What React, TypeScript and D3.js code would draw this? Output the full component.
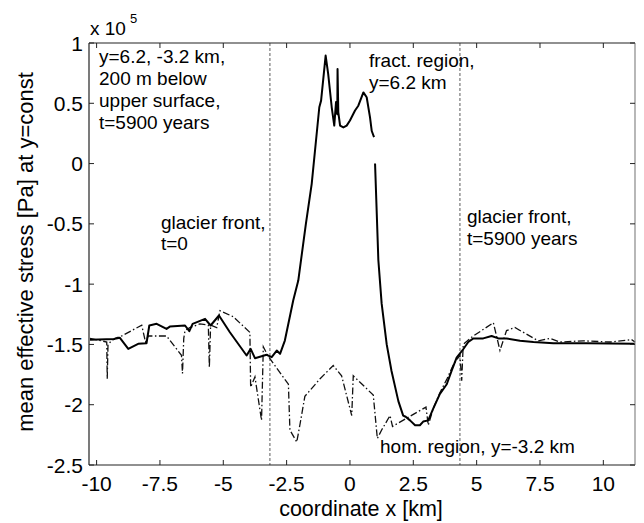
import React from "react";
import * as d3 from "d3";

// x in km, y in 1e5 Pa
const solidPts: [number, number | null][] = [
  [-10.26, -1.462], [-9.28, -1.454], [-9.08, -1.445], [-8.75, -1.537], [-8.36, -1.495],
  [-8.03, -1.49], [-7.92, -1.343], [-7.63, -1.329], [-7.24, -1.371], [-7.11, -1.352],
  [-6.51, -1.343], [-6.34, -1.39], [-6.21, -1.329], [-5.72, -1.288], [-5.5, -1.343],
  [-5.17, -1.26], [-4.74, -1.399], [-4.08, -1.592], [-3.92, -1.537], [-3.75, -1.614],
  [-3.29, -1.586], [-3.09, -1.606], [-2.89, -1.551], [-2.76, -1.578], [-2.57, -1.468],
  [-2.24, -1.136], [-2.04, -0.97], [-1.74, -0.5], [-1.51, -0.168], [-1.21, 0.467],
  [-1.14, 0.522], [-0.96, 0.896], [-0.86, 0.744], [-0.72, 0.467], [-0.62, 0.315],
  [-0.55, 0.51], [-0.5, 0.41], [-0.49, 0.785], [-0.46, 0.425], [-0.39, 0.315],
  [-0.26, 0.3], [-0.13, 0.315], [0, 0.357], [0.2, 0.44], [0.33, 0.48], [0.53, 0.59],
  [0.66, 0.55], [0.79, 0.385], [0.86, 0.27], [0.95, 0.22], [0.97, null],
  [0.99, 0.0], [1.12, -0.8], [1.25, -1.16], [1.45, -1.5], [1.64, -1.72], [1.91, -1.97],
  [2.1, -2.09], [2.2, -2.1], [2.37, -2.13], [2.57, -2.17], [2.76, -2.17], [2.89, -2.14],
  [3.09, -2.13], [3.29, -2.03], [3.55, -1.91], [3.82, -1.83], [4.01, -1.72], [4.21, -1.61],
  [4.47, -1.54], [4.67, -1.48], [4.87, -1.45], [5.26, -1.45], [5.59, -1.43], [5.86, -1.45],
  [6.18, -1.45], [6.71, -1.47], [7.24, -1.48], [8.03, -1.49], [9.34, -1.49], [11.25, -1.495],
];

const dashPts: [number, number][] = [
  [-10.26, -1.45], [-9.6, -1.48], [-9.58, -1.785], [-9.55, -1.5], [-9.41, -1.47],
  [-9.28, -1.45], [-9.01, -1.43], [-8.22, -1.34], [-8.07, -1.48], [-7.96, -1.43],
  [-7.24, -1.43], [-6.65, -1.59], [-6.61, -1.74], [-6.56, -1.45], [-6.51, -1.385],
  [-6.32, -1.36], [-5.92, -1.33], [-5.59, -1.34], [-5.55, -1.69], [-5.5, -1.34],
  [-5.26, -1.36], [-5.13, -1.22], [-4.61, -1.27], [-3.95, -1.4], [-3.92, -1.855],
  [-3.75, -1.77], [-3.49, -2.13], [-3.42, -1.52], [-3.22, -1.6], [-2.43, -1.83],
  [-2.37, -2.21], [-2.1, -2.31], [-1.97, -2.16], [-1.78, -1.93], [-1.18, -1.785],
  [-0.66, -1.675], [-0.33, -1.76], [0.07, -2.09], [0.13, -1.76], [0.92, -1.92],
  [1.08, -2.28], [1.25, -2.21], [1.58, -2.09], [1.68, -2.18], [3.0, -2.02],
  [3.09, -2.17], [3.29, -2.03], [3.55, -1.9], [3.82, -1.79], [4.1, -1.66],
  [4.34, -1.59], [4.41, -1.8], [4.47, -1.5], [4.8, -1.44], [5.66, -1.32],
  [5.92, -1.55], [6.18, -1.385], [6.51, -1.36], [7.43, -1.47], [7.9, -1.45],
  [8.29, -1.48], [9.21, -1.47], [10.26, -1.48], [11.12, -1.46], [11.25, -1.48],
];

const xTicks = [-10, -7.5, -5, -2.5, 0, 2.5, 5, 7.5, 10];
const xTickLabels = ["-10", "-7.5", "-5", "-2.5", "0", "2.5", "5", "7.5", "10"];
const yTicks = [-2.5, -2, -1.5, -1, -0.5, 0, 0.5, 1];
const yTickLabels = ["-2.5", "-2", "-1.5", "-1", "-0.5", "0", "0.5", "1"];
const frontLines = [-3.16, 4.34];

const FONT = "'Liberation Sans', Arial, Helvetica, sans-serif";

export default function App() {
  const W = 644, H = 523;
  const L = 89, R = 635, T = 43, B = 465;
  const x = d3.scaleLinear().domain([-10.3, 11.25]).range([L, R]);
  const y = d3.scaleLinear().domain([-2.5, 1]).range([B, T]);

  const solidLine = d3
    .line<[number, number | null]>()
    .defined((d) => d[1] !== null)
    .x((d) => x(d[0]))
    .y((d) => y(d[1] as number));
  const dashLine = d3
    .line<[number, number]>()
    .x((d) => x(d[0]))
    .y((d) => y(d[1]));

  const tk = 5;
  return (
    <svg
      width={W}
      height={H}
      style={{ position: "fixed", left: 0, top: 0, background: "#fff" }}
      fontFamily={FONT}
    >
      <rect x={0} y={0} width={W} height={H} fill="#fff" />
      {frontLines.map((v, i) => (
        <line key={i} x1={x(v)} x2={x(v)} y1={T} y2={B} stroke="#777" strokeWidth={1.2} strokeDasharray="3 2" />
      ))}
      <path d={dashLine(dashPts) || ""} fill="none" stroke="#111" strokeWidth={1.3} strokeDasharray="7 2.5 1.5 2.5" />
      <path d={solidLine(solidPts) || ""} fill="none" stroke="#000" strokeWidth={2} strokeLinejoin="round" />
      <line x1={L} x2={R} y1={T} y2={T} stroke="#222" strokeWidth={1.2} />
      <line x1={L} x2={R} y1={B} y2={B} stroke="#222" strokeWidth={1.2} />
      <line x1={L} x2={L} y1={T} y2={B} stroke="#222" strokeWidth={1.2} />
      <line x1={R} x2={R} y1={T} y2={B} stroke="#888" strokeWidth={1.2} />
      {xTicks.map((v, i) => (
        <g key={i}>
          <line x1={x(v)} x2={x(v)} y1={B} y2={B - tk} stroke="#222" />
          <line x1={x(v)} x2={x(v)} y1={T} y2={T + tk} stroke="#222" />
          <text x={x(v)} y={491} textAnchor="middle" fontSize={21} fill="#000">{xTickLabels[i]}</text>
        </g>
      ))}
      {yTicks.map((v, i) => (
        <g key={i}>
          <line x1={L} x2={L + tk} y1={y(v)} y2={y(v)} stroke="#222" />
          <line x1={R} x2={R - tk} y1={y(v)} y2={y(v)} stroke="#222" />
          <text x={83} y={y(v)} dy="0.36em" textAnchor="end" fontSize={21} fill="#000">{yTickLabels[i]}</text>
        </g>
      ))}
      <text x={90} y={35} fontSize={19} fill="#000">x 10</text>
      <text x={130} y={23} fontSize={13} fill="#000">5</text>
      <text x={361} y={516} textAnchor="middle" fontSize={21.5} fill="#000">coordinate x [km]</text>
      <text transform={`translate(33,252) rotate(-90)`} textAnchor="middle" fontSize={22} fill="#000">
        mean effective stress [Pa] at y=const
      </text>
      <g fontSize={19} fill="#000">
        <text x={99} y={63}>y=6.2, -3.2 km,</text>
        <text x={99} y={85}>200 m below</text>
        <text x={99} y={107}>upper surface,</text>
        <text x={99} y={129}>t=5900 years</text>
        <text x={161} y={229}>glacier front,</text>
        <text x={161} y={250}>t=0</text>
        <text x={369} y={67}>fract. region,</text>
        <text x={369} y={89}>y=6.2 km</text>
        <text x={467} y={223}>glacier front,</text>
        <text x={467} y={245}>t=5900 years</text>
        <text x={380} y={453}>hom. region, y=-3.2 km</text>
      </g>
    </svg>
  );
}
